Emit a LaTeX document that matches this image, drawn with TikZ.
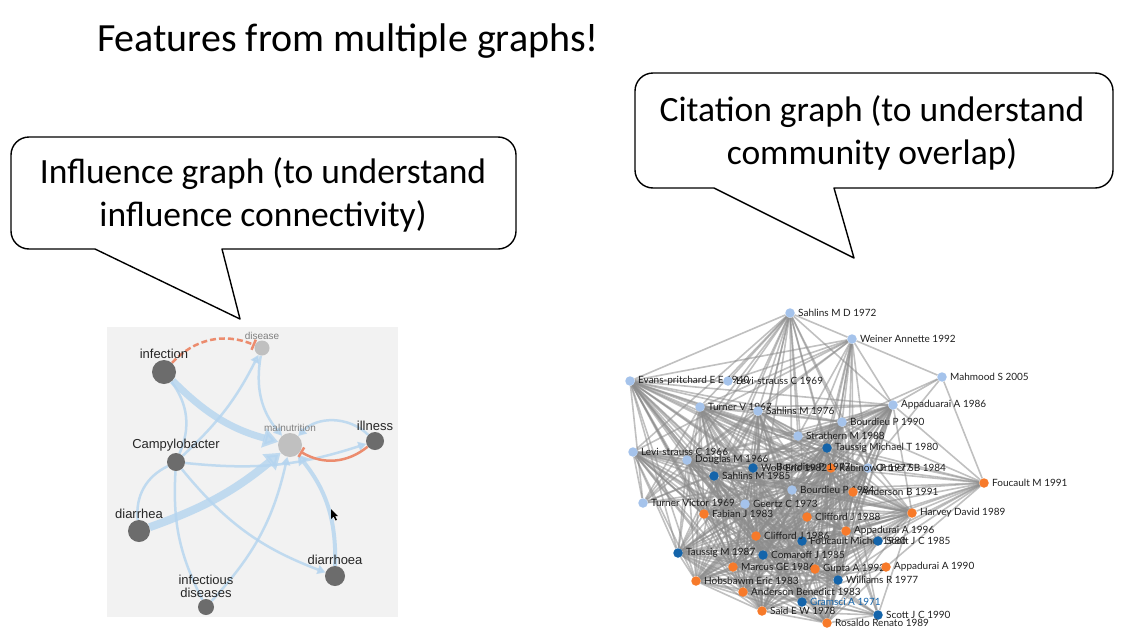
\documentclass[tikz,border=0pt]{standalone}
\usepackage{fontspec}
\setmainfont{Carlito}
\newfontfamily\helv{Liberation Sans}
\newfontfamily\lato{Lato}
\usetikzlibrary{arrows.meta,backgrounds}
\definecolor{panelgray}{RGB}{242,242,242}
\definecolor{edgeblue}{RGB}{180,212,239}
\definecolor{inhib}{RGB}{236,140,110}
\definecolor{nodegray}{RGB}{108,108,108}
\definecolor{lightnode}{RGB}{192,192,192}
\definecolor{citelb}{RGB}{165,195,235}
\definecolor{citedb}{RGB}{20,100,170}
\definecolor{citeor}{RGB}{247,122,42}

\begin{document}
\begin{tikzpicture}[x=1pt,y=-1pt,
 callout/.style={draw=black,line width=1.4pt,fill=white,line join=round},
 ctext/.style={align=center,font=\fontsize{35.5}{43}\selectfont},
 inode/.style={circle,fill=nodegray,inner sep=0pt},
 ilab/.style={font=\helv\fontsize{13}{13}\selectfont,text=black!85,inner sep=1pt},
 slab/.style={font=\helv\fontsize{10}{11}\selectfont,text=black!50,inner sep=1pt},
 iedge/.style={draw=edgeblue,line width=2.5pt,opacity=.8,-{Triangle[length=8pt,width=9pt]}},
 block/.style={draw=inhib,line width=2.5pt,-{Bar[width=11pt,line width=2.5pt]}},
 cnode/.style={circle,inner sep=0pt,minimum size=9.5pt},
 clab/.style={font=\lato\fontsize{10}{10}\selectfont,text=black!88,inner sep=1pt,label distance=2pt},
 cedge/.style={draw=black!45,line width=1.6pt,opacity=.55},
 lbnode/.style={cnode,fill=citelb}, dbnode/.style={cnode,fill=citedb}, ornode/.style={cnode,fill=citeor}]
\useasboundingbox (0,0) rectangle (1121,637);
\node[anchor=base,font=\fontsize{40}{48}\selectfont] (title) at (348,51) {Features from multiple graphs!};

\draw[callout] (95,249) [rounded corners=18pt] -- (11,249) -- (11,137) -- (516,137) -- (516,249) [sharp corners] -- (222,249) -- (240,319) -- cycle;
\node[ctext] (infltext) at (263,195) {Influence graph (to understand\\influence connectivity)};
\draw[callout] (714,188) [rounded corners=18pt] -- (635,188) -- (635,73) -- (1113,73) -- (1113,188) [sharp corners] -- (834,188) -- (854,258) -- cycle;
\node[ctext] (citetext) at (872,133) {Citation graph (to understand\\community overlap)};

\begin{scope}[on background layer]
\fill[panelgray] (107,327) rectangle (398,617);
\end{scope}
\node[inode,minimum size=24pt,label={[ilab]above:infection}] (infection) at (164,372) {};
\node[inode,fill=lightnode,minimum size=15pt,label={[slab]above:disease}] (disease) at (262,348) {};
\node[inode,fill=lightnode,minimum size=24pt,label={[slab]above:malnutrition}] (malnutrition) at (290,445) {};
\node[inode,minimum size=18pt,label={[ilab]above:illness}] (illness) at (375,441) {};
\node[inode,minimum size=18pt,label={[ilab]above:Campylobacter}] (campy) at (176,462) {};
\node[inode,minimum size=22pt,label={[ilab]above:diarrhea}] (diarrhea) at (139,531) {};
\node[inode,minimum size=20pt,label={[ilab]above:diarrhoea}] (diarrhoea) at (335,576) {};
\node[inode,minimum size=16pt,label={[ilab,align=center]above:infectious\\diseases}] (infdis) at (206,607) {};
\fill (331,509) -- (331,519) -- (333.5,516.5) -- (335.5,520.5) -- (337,519.8) -- (335,516) -- (338,516) -- cycle;
\begin{scope}[on background layer]
\draw[iedge,line width=7pt,-{Triangle[length=15pt,width=19pt]}] (infection) to[bend right=15] (malnutrition);
\draw[iedge,line width=8pt,-{Triangle[length=15pt,width=20pt]}] (diarrhea) to[bend right=10] (malnutrition);
\draw[iedge,line width=4pt,-{Triangle[length=10pt,width=12pt]}] (diarrhoea) to[bend right=20] (malnutrition);
\draw[iedge,-] (infection) to[bend left=30] (campy);
\draw[iedge] (campy) to[bend right=10] (disease); \draw[iedge] (disease) to[bend right=25] (malnutrition);
\draw[iedge] (campy) to[bend right=12] (illness); \draw[iedge] (illness) to[bend right=45] (malnutrition);
\draw[iedge,-] (campy) to[bend right=35] (diarrhea); \draw[iedge,-] (campy) to[bend right=15] (infdis);
\draw[iedge] (campy) to[bend right=15] (diarrhoea); \draw[iedge] (infdis) to[bend right=15] (malnutrition);
\draw[block,dashed,dash pattern=on 6pt off 3pt] (infection) to[bend left=35] (disease);
\draw[block] (illness) to[bend left=35] (malnutrition);
\end{scope}

\foreach \n/\x/\y/\s/\t in {sd72/790/313/lbnode/Sahlins M D 1972, wa92/852/339/lbnode/Weiner Annette 1992, ms05/942/377/lbnode/Mahmood S 2005,
 ep40/630/381/lbnode/Evans-pritchard E E 1940, ls69/728/381/lbnode/Levi-strauss C 1969, tv67/700/407/lbnode/Turner V 1967,
 sm76/758/411/lbnode/Sahlins M 1976, ad86/893/405/lbnode/Appaduarai A 1986, bp90/842/422/lbnode/Bourdieu P 1990,
 st88/798/436/lbnode/Strathern M 1988, ls66/633/452/lbnode/Levi-strauss C 1966, dm66/687/460/lbnode/Douglas M 1966,
 os84/868/468/lbnode/Ortner SB 1984, bp84/792/490/lbnode/Bourdieu P 1984, tv69/643/503/lbnode/Turner Victor 1969,
 gc73/745/504/lbnode/Geertz C 1973, tm80/827/448/dbnode/Taussig Michael T 1980, we82/753/468/dbnode/Wolf Eric 1982,
 sm85/714/476/dbnode/Sahlins M 1985, fm80/802/541/dbnode/Foucault Michel 1980, sj85/878/541/dbnode/Scott J C 1985,
 tm87/678/553/dbnode/Taussig M 1987, cf85/763/555/dbnode/Comaroff J 1985, wr77/838/580/dbnode/Williams R 1977,
 sj90/878/615/dbnode/Scott J C 1990, rp77/831/468/ornode/Rabinow P 1977, fm91/984/483/ornode/Foucault M 1991,
 ab91/853/492/ornode/Anderson B 1991, hd89/912/513/ornode/Harvey David 1989, fj83/704/514/ornode/Fabian J 1983,
 cj88/807/517/ornode/Clifford J 1988, aa96/846/531/ornode/Appadurai A 1996, cj86/756/536/ornode/Clifford J 1986,
 mg86/733/567/ornode/Marcus GE 1986, ga92/815/569/ornode/Gupta A 1992, aa90/886/567/ornode/Appadurai A 1990,
 he83/696/581/ornode/Hobsbawm Eric 1983, abe83/743/592/ornode/Anderson Benedict 1983, se78/762/611/ornode/Said E W 1978,
 rr89/827/623/ornode/Rosaldo Renato 1989}
 \node[\s,label={[clab]right:\t}] (\n) at (\x,\y) {};
\node[dbnode,label={[clab,text=citedb]right:Gramsci A 1971}] (gr71) at (802,602) {};
\node[clab,anchor=west] (bp77) at (775,467) {Bourdieu P 1977};

\def\corelist{ep40,ls69,tv67,sm76,ad86,bp90,st88,ls66,dm66,os84,bp84,tv69,gc73,tm80,we82,sm85,fm80,sj85,tm87,cf85,wr77,gr71,sj90,rp77,ab91,hd89,fj83,cj88,aa96,cj86,mg86,ga92,aa90,he83,abe83,se78,rr89}
\begin{scope}[on background layer]
\foreach \a [count=\i] in \corelist {\foreach \b [count=\j] in \corelist {\ifnum\j>\i
 \pgfmathtruncatemacro\k{mod(\i*7+\j*13+\i*\j,5)}\ifnum\k<4 \draw[cedge] (\a)--(\b);\fi\fi}}
\foreach \a/\bl in {sd72/{wa92,ep40,ls69,tv67,sm76,st88,bp90,tm80,dm66,ls66,we82,gc73,sm85,os84,bp84,cj88,ad86,tv69,fj83,cj86,rp77},
 wa92/{ms05,ad86,ep40,ls69,tv67,sm76,st88,bp90,tm80,os84,ab91,bp84,dm66,ls66,aa96,cj88,ga92,rp77},
 ms05/{ad86,fm91,bp90,os84},
 fm91/{ad86,hd89,ab91,os84,aa96,sj85,aa90,tm80,cj88,bp84,ga92,wr77,fm80,bp90,st88,rp77}}
 \foreach \b in \bl \draw[cedge] (\a)--(\b);
\end{scope}
\end{tikzpicture}
\end{document}
